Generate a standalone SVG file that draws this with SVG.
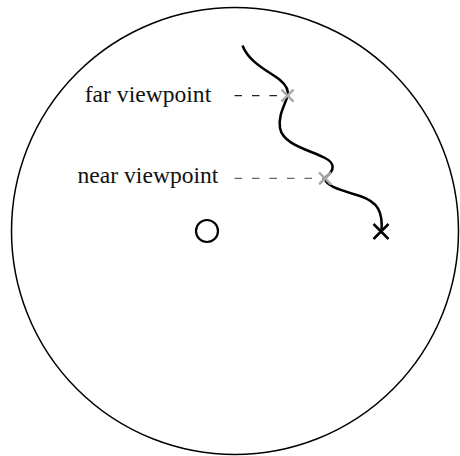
<svg xmlns="http://www.w3.org/2000/svg" width="460" height="456" viewBox="0 0 460 456">
<style>
.lbl{font-family:"Liberation Serif","DejaVu Serif",serif;font-size:23.6px;fill:#111;text-anchor:middle}
.gx{stroke:#a8a8a8;stroke-width:2.5;fill:none}
.bx{stroke:#000;stroke-width:2.5;fill:none}
</style>
<rect width="460" height="456" fill="#fff"/>
<g id="boundary"><circle cx="235" cy="231" r="223.5" fill="none" stroke="#000" stroke-width="1.5"/></g>
<g id="center"><circle cx="207" cy="231" r="11" fill="none" stroke="#000" stroke-width="2.2"/></g>
<g id="connectors">
<path d="M234.5,95.7 H287.5" stroke="#222" stroke-width="1.2" stroke-dasharray="7.5 10" fill="none"/>
<path d="M234.5,178.3 H325" stroke="#666" stroke-width="1.2" stroke-dasharray="7.5 10" fill="none"/>
<path id="trajectory" d="M242.5,45.5 C249,63 270,72 280,80 C286,85 289,90 287.5,96 C285,105 278,115 280,128 C283,145 310,150 325,158 C335,163 335,170 326,177 C322,185 340,190 360,196 C378,202 383,212 381.5,231" fill="none" stroke="#000" stroke-width="2.5"/>
</g>
<g id="far-viewpoint">
<path class="gx" d="M281.5,89.7 L293.5,101.7 M293.5,89.7 L281.5,101.7"/>
<text class="lbl" x="148" y="101.7">far viewpoint</text>
</g>
<g id="near-viewpoint">
<path class="gx" d="M319,172.3 L331,184.3 M331,172.3 L319,184.3"/>
<text class="lbl" x="148" y="182.7">near viewpoint</text>
</g>
<g id="target"><path class="bx" d="M373.5,224 L388.5,239 M388.5,224 L373.5,239"/></g>
</svg>
